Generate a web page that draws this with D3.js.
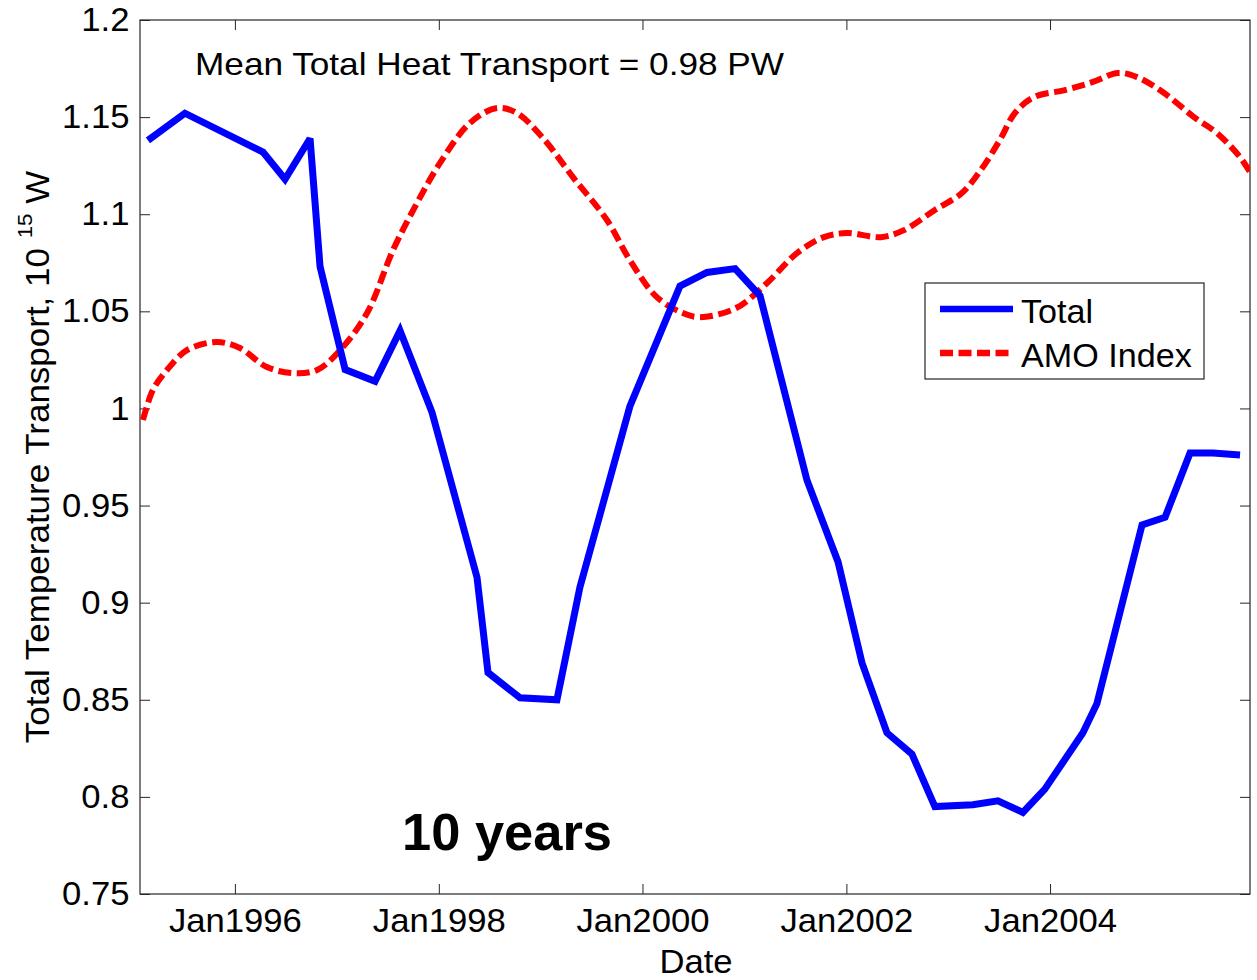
<!DOCTYPE html>
<html>
<head>
<meta charset="utf-8">
<script src="https://cdn.jsdelivr.net/npm/d3@7"></script>
<style>
  html, body { margin: 0; padding: 0; background: #fff; }
  svg { display: block; }
  text { font-family: "Liberation Sans", Arial, Helvetica, sans-serif; fill: #000; }
</style>
</head>
<body>
<svg id="chart" width="1257" height="980"></svg>
<script>
// Total heat transport (PW), dates as decimal years
const totalYears = [1995.146, 1995.509, 1996.275, 1996.491, 1996.736, 1996.834, 1997.080, 1997.374,
  1997.619, 1997.933, 1998.375, 1998.483, 1998.797, 1999.160, 1999.386, 1999.876, 2000.367, 2000.632,
  2000.907, 2001.152, 2001.613, 2001.918, 2002.153, 2002.398, 2002.644, 2002.869, 2003.242, 2003.488,
  2003.733, 2003.949, 2004.322, 2004.459, 2004.901, 2005.127, 2005.372, 2005.598, 2005.863];
const totalValues = [1.138, 1.152, 1.132, 1.118, 1.139, 1.073, 1.020, 1.014,
  1.040, 0.998, 0.913, 0.864, 0.851, 0.850, 0.908, 1.001, 1.063, 1.070,
  1.072, 1.058, 0.963, 0.921, 0.869, 0.833, 0.822, 0.795, 0.796, 0.798,
  0.792, 0.804, 0.833, 0.848, 0.940, 0.944, 0.977, 0.977, 0.976];

// AMO index (scaled onto the same axis)
const amoYears = [1995.097, 1995.195, 1995.333, 1995.529, 1995.823, 1996.049, 1996.314, 1996.569,
  1996.805, 1997.030, 1997.295, 1997.551, 1997.786, 1998.012, 1998.306, 1998.571, 1998.767, 1999.023,
  1999.317, 1999.651, 1999.876, 2000.141, 2000.396, 2000.563, 2000.917, 2001.221, 2001.515, 2001.780,
  2002.006, 2002.340, 2002.565, 2002.869, 2003.134, 2003.321, 2003.507, 2003.655, 2003.841, 2004.145,
  2004.420, 2004.665, 2004.852, 2005.117, 2005.411, 2005.637, 2005.863, 2005.961];
const amoValues = [0.994, 1.0095, 1.0198, 1.030, 1.0342, 1.0311, 1.0213, 1.0182,
  1.0198, 1.030, 1.0491, 1.0816, 1.1058, 1.1264, 1.147, 1.1547, 1.1521, 1.1392,
  1.1191, 1.097, 1.0764, 1.0573, 1.0491, 1.047, 1.0517, 1.0646, 1.080, 1.0882,
  1.0903, 1.0882, 1.0918, 1.1022, 1.1109, 1.1228, 1.1382, 1.1521, 1.1603, 1.1639,
  1.1681, 1.1727, 1.1706, 1.1624, 1.150, 1.1418, 1.1294, 1.1217];

const xTickDates = ["1996-01-01", "1998-01-01", "2000-01-01", "2002-01-01", "2004-01-01"];
const yTicks = [0.75, 0.8, 0.85, 0.9, 0.95, 1.0, 1.05, 1.1, 1.15, 1.2];
const xDomainYears = [1995.068, 2005.961];

const seriesNames = ["Total", "AMO Index"];
const annotation = "Mean Total Heat Transport = 0.98 PW";
const windowLabel = "10 years";

// decimal year -> Date (UTC)
function yearToDate(y) {
  const yr = Math.floor(y);
  const start = Date.UTC(yr, 0, 1), end = Date.UTC(yr + 1, 0, 1);
  return new Date(start + (y - yr) * (end - start));
}

const svg = d3.select("#chart");
const W = 1257, H = 980;
const margin = { left: 140, top: 20, right: W - 1250, bottom: H - 894 };
const x0 = margin.left, x1 = W - margin.right, y0 = margin.top, y1 = H - margin.bottom;

const x = d3.scaleUtc().domain(xDomainYears.map(yearToDate)).range([x0, x1]);
const y = d3.scaleLinear().domain([0.75, 1.2]).range([y1, y0]);

const fontSize = 33;
const stretch = 1.05;   // the labels are set a little wide
const tickLen = 10;
const axisColor = "#262626";

const xTicks = xTickDates.map(d => new Date(d + "T00:00:00Z"));
const fmtX = d3.utcFormat("%b%Y");
const fmtY = d => String(+d.toFixed(2));

// bottom axis
const gx = svg.append("g").attr("transform", `translate(0,${y1})`)
  .call(d3.axisBottom(x).tickValues(xTicks).tickFormat(fmtX).tickSizeInner(-tickLen).tickSizeOuter(0).tickPadding(15));
// top axis (mirrored ticks)
const gxt = svg.append("g").attr("transform", `translate(0,${y0})`)
  .call(d3.axisTop(x).tickValues(xTicks).tickFormat("").tickSizeInner(-tickLen).tickSizeOuter(0));
// left axis
const gy = svg.append("g").attr("transform", `translate(${x0},0)`)
  .call(d3.axisLeft(y).tickValues(yTicks).tickFormat(fmtY).tickSizeInner(-tickLen).tickSizeOuter(0).tickPadding(10));
// right axis (mirrored ticks)
const gyr = svg.append("g").attr("transform", `translate(${x1},0)`)
  .call(d3.axisRight(y).tickValues(yTicks).tickFormat("").tickSizeInner(-tickLen).tickSizeOuter(0));

[gx, gxt, gy, gyr].forEach(g => {
  g.select(".domain").remove();
  g.selectAll(".tick line").attr("stroke", axisColor).attr("stroke-width", 1);
  g.selectAll("text").attr("font-size", fontSize).attr("fill", "#000")
    .attr("transform", `scale(${stretch},1)`);
});
gx.attr("font-family", null);
gy.attr("font-family", null);
gx.selectAll(".tick text").attr("dy", "0.71em");

// plot box
svg.append("rect").attr("x", x0).attr("y", y0).attr("width", x1 - x0).attr("height", y1 - y0)
  .attr("fill", "none").attr("stroke", axisColor).attr("stroke-width", 1.2);

// clip
svg.append("clipPath").attr("id", "plotclip").append("rect")
  .attr("x", x0).attr("y", y0 - 4).attr("width", x1 - x0).attr("height", y1 - y0 + 8);

const totalData = totalYears.map((t, i) => ({ date: yearToDate(t), v: totalValues[i] }));
const amoData = amoYears.map((t, i) => ({ date: yearToDate(t), v: amoValues[i] }));

const plot = svg.append("g").attr("clip-path", "url(#plotclip)");

plot.append("path").datum(amoData)
  .attr("d", d3.line().x(d => x(d.date)).y(d => y(d.v)).curve(d3.curveCatmullRom.alpha(0.5)))
  .attr("fill", "none").attr("stroke", "#ff0000").attr("stroke-width", 6)
  .attr("stroke-dasharray", "13,5.5");

plot.append("path").datum(totalData)
  .attr("d", d3.line().x(d => x(d.date)).y(d => y(d.v)))
  .attr("fill", "none").attr("stroke", "#0000ff").attr("stroke-width", 7)
  .attr("stroke-linejoin", "miter").attr("stroke-miterlimit", 3);

// stretched text helper
function label(parent, tx, ty, sx, size, str, anchor) {
  return parent.append("text")
    .attr("transform", `translate(${tx},${ty}) scale(${sx},1)`)
    .attr("text-anchor", anchor || "start").attr("font-size", size).text(str);
}

// axis labels
label(svg, (x0 + x1) / 2 + 1, 973, stretch, fontSize, "Date", "middle");

const yl = svg.append("text")
  .attr("transform", `translate(49,${(y0 + y1) / 2}) rotate(-90) scale(1.06,1)`)
  .attr("text-anchor", "middle").attr("font-size", fontSize);
yl.append("tspan").text("Total Temperature Transport, 10 ");
yl.append("tspan").attr("font-size", 21).attr("dy", -17).text("15");
yl.append("tspan").attr("dy", 17).text(" W");

// annotations
label(svg, 195, 75, 1.1, 32, annotation);
svg.append("text").attr("x", 402).attr("y", 850).attr("font-size", 52)
  .attr("font-weight", "bold").attr("transform", null).text(windowLabel)
  .attr("textLength", 210).attr("lengthAdjust", "spacingAndGlyphs");

// legend
const lg = svg.append("g");
lg.append("rect").attr("x", 925).attr("y", 283).attr("width", 279).attr("height", 96)
  .attr("fill", "#fff").attr("stroke", axisColor).attr("stroke-width", 1.2);
const legendRows = [
  { name: seriesNames[0], color: "#0000ff", dash: null, ly: 309, ty: 323 },
  { name: seriesNames[1], color: "#ff0000", dash: "13,5.5", ly: 353, ty: 367 }
];
legendRows.forEach(r => {
  lg.append("line").attr("x1", 940).attr("x2", 1013).attr("y1", r.ly).attr("y2", r.ly)
    .attr("stroke", r.color).attr("stroke-width", 6.5).attr("stroke-dasharray", r.dash);
  label(lg, 1021, r.ty, 1.035, fontSize, r.name);
});
</script>
</body>
</html>
